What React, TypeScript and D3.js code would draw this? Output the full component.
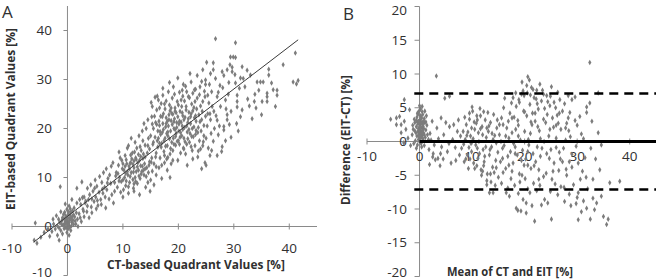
import React from "react";
import * as d3 from "d3";

// Panel A: CT-based (x) vs EIT-based (y) quadrant values [%]
const scatterA: [number, number][] = [
  [-0.5,0.5],[0,1],[0.3,0.2],[-0.2,1.5],[0.5,1.8],[0.8,0.8],[-0.8,0.3],[-1,1.2],[0.2,2.5],[-0.3,2.2],[0.6,2.9],[1,1.3],[1.3,2],[-1.4,0.8],[-0.6,-0.4],[0.1,-0.5],[0.4,-0.2],[-1.2,-0.8],[-0.9,1.8],[1.5,0.5],[0.9,3.2],[-0.1,3.5],[0.3,4.2],[-0.5,2.9],[1.8,1.5],[2.1,2.6],[1.2,3.8],[-1.8,0.1],[-2.2,-0.5],[-1.6,1.5],[0,0],[0.2,0.6],[-0.4,1],[0.7,0.1],[1.1,0.4],[-0.7,2.5],[0.4,1.3],[-0.2,0.8],[0.5,2.3],[-1.1,0.5],[0.1,1.7],[0.9,2.1],[-0.3,-0.2],[1.4,1.1],[-0.6,1.6],[0.2,3],[0.6,-0.8],[-0.1,-1.2],[-2.5,0.5],[-2.8,-1],[-3.2,-2],[-3.5,-0.5],[-1.8,-1.8],[-1.5,-2.8],[-4.2,-1.2],[-5.8,0.7],[-6,-2.8],[-5.5,-3.4],[-4.8,-2.2],[-2,2.2],[-1.2,3],[2.5,1],[2.8,3.5],[2.4,4.5],[1.7,4.8],[0.8,5.5],[-0.4,4.6],[3,2],[-2.6,1.5],[0.3,-1.8],[-0.9,-1.5],[1.9,0],
  [2.6,9.1],[1.7,7.8],[-1.3,8.1],[3.2,4.8],[3.5,3],[3.8,5.5],[4,6.5],[4.3,4],[4.6,7.2],[4.8,5.1],[5.1,6],[5.3,8.2],[5.5,4.3],[5.7,7],[6,5.5],[6.2,9],[6.4,6.8],[6.7,8],[6.9,3.8],[7.1,7.5],[7.3,9.8],[7.5,5.6],[7.8,8.8],[8,6.5],[3,6],[3.6,7.8],[4.2,8.5],[2.2,5.5],[2.9,3.1],[5,9.5],[5.8,10.2],[6.5,11],[7,11.8],[7.6,10.5],[4.4,2.8],[6.1,4.5],[5.2,3.6],[3.9,1.8],[2.3,1.8],[6.8,6],[8.3,4.8],[8.5,7.2],[4.9,7.8],[3.3,5.2],[7.9,12.3],
  [8.5,9],[8.8,11],[9,8],[9.2,12.5],[9.4,10],[9.6,7],[9.8,13.5],[10,9.5],[10.2,11.5],[10.4,14.5],[10.5,8.3],[10.7,12.8],[10.9,10.5],[11,16.5],[11.2,9],[11.4,13],[11.5,11],[11.7,15],[11.9,7.8],[12,12],[12.2,10],[12.3,14],[12.5,16],[12.6,8.8],[12.8,11.5],[13,13.5],[13.1,9.8],[13.3,15.5],[13.5,12.3],[13.6,17.5],[13.8,10.5],[14,14.2],[14.1,8],[14.3,12],[14.5,16.5],[14.6,11],[14.8,13.2],[15,18.5],[15,9.5],[9.1,10.8],[9.5,14],[9.9,11.8],[10.1,7.5],[10.3,10],[10.6,13.6],[10.8,11.2],[11.1,12.3],[11.3,10.2],[11.6,13.8],[11.8,9.6],[12.1,15.2],[12.4,11.2],[12.7,13],[12.9,10.3],[13.2,12.4],[13.4,11.2],[13.7,14.8],[13.9,12.8],[14.2,10.2],[14.4,15],[14.7,12.5],[14.9,7.2],[11.5,18],[12.2,17.2],[10.8,16],[12.9,18.5],[13.5,19.5],[14.2,20],[8.2,13],[9.3,15.2],[10,6],[11,6.8],[12,7.2],[13,6.5],[14.5,9],[15.3,11.3],[15.6,8.5],[16,10.5],[16.5,12],[17,9.8],[17.5,13],[18,11.5],[18.5,10],[19,13.5],[11.9,11.1],[12.6,12.2],[10.6,9.3],[11.4,14.6],[13.1,16.3],[12.3,9.2],[14,11.8],[13.6,13.9],[11.2,11.8],[12.8,14.7],[10.4,12.3],[9.7,9.2],[11.8,12.7],[13.3,10.7],[12,13.4],
  [15.2,14],[15.4,16.8],[15.5,20],[15.7,22.5],[15.3,24.5],[15.8,18.2],[15.1,25.3],[15.6,12.8],
  [16,15],[16.2,17.5],[16.3,19.5],[16.5,21.5],[16.1,23.8],[16.4,25.8],[16.7,14],[16.8,18.8],[16.6,20.6],[16.9,16.2],[16.2,26.6],[16.6,24.2],
  [17,17],[17.1,19.2],[17.2,21],[17.3,23],[17.4,15.3],[17.5,25],[17.6,18],[17.7,20.3],[17.8,22.2],[17.9,13.8],[17.2,26.8],[17.6,24],
  [18,16.5],[18.1,18.5],[18.2,20.5],[18.3,22.8],[18.4,24.8],[18.5,14.8],[18.6,19.5],[18.7,21.6],[18.8,17.2],[18.9,26.2],[18.2,27.5],[18.5,23.6],[18.7,12.8],
  [19,15.5],[19.1,18],[19.2,20],[19.3,22],[19.4,24.2],[19.5,16.6],[19.6,19],[19.7,21.2],[19.8,25.5],[19.9,13.5],[19.3,27],[19.6,23.2],[19.1,28.5],
  [20,17.5],[20.1,19.5],[20.2,21.5],[20.3,23.5],[20.4,15],[20.5,25.8],[20.6,18.5],[20.7,20.5],[20.8,22.6],[20.9,16],[20.2,27.4],[20.6,24.5],[20.9,29],
  [21,18],[21.1,20.2],[21.2,22.3],[21.3,14.8],[21.4,24.5],[21.5,16.8],[21.6,19.3],[21.7,21.2],[21.8,26.5],[21.9,23.3],[21.3,28.6],[21.6,12.5],
  [22,17.2],[22.1,19],[22.2,21],[22.3,23],[22.4,25],[22.5,15.5],[22.6,27.2],[22.7,18.3],[22.8,20.3],[22.9,22.2],[22.3,29.5],[22.6,13.8],
  [23,16.5],[23.1,18.8],[23.2,21.5],[23.3,24],[23.4,26.2],[23.5,14.2],[23.6,20.2],[23.7,22.8],[23.8,17.5],[23.9,28.5],[23.4,30.8],
  [24,15.8],[24.1,19.5],[24.2,21.8],[24.3,23.5],[24.4,25.5],[24.5,17.3],[24.6,20.6],[24.7,27.6],[24.8,13],[24.9,22.5],[24.4,32],
  [25,18],[25.2,20.5],[25.3,23],[25.4,16],[25.5,25.2],[25.6,29],[25.8,21.8],[25.9,19],[25.1,33.5],[25.7,14.5],
  [16.4,18],[16.8,22.5],[17.3,19.8],[17.8,21],[18.1,19.3],[18.4,17.9],[18.9,20.8],[19.2,21.4],[19.5,18.4],[19.9,22.4],[20.1,20.9],[20.4,19.2],[20.7,23.2],[21,21.8],[21.2,17.3],[21.5,20.5],[21.9,19.8],[22.2,22.4],[16.1,20.8],[17.1,22.4],[18.3,21.8],[19.4,23.5],[20.3,18.2],[21.4,23.8],[22.5,20],[15.9,21.2],[17.4,17.5],[18.6,15.9],[19.8,17.4],[20.8,19.8],[21.7,17.9],[22.8,24.3],[23.1,22.6],[16.7,19.4],[17.9,19],[19,22.9],[20,24.8],[21.1,25.6],[22,26.3],[23.5,19.2],[15.5,17.2],[16.3,16.2],[17.7,16.4],[18.8,23.1],[19.7,20.2],[20.5,21.3],[21.8,22],[22.4,18.4],[23,25.5],[24,24.6],
  [26.7,38.3],[30.3,37.5],[29.4,34.6],[29.9,34.6],[30.3,34.5],[41.1,35.4],[40.7,29.5],[41.6,29.8],[41.3,29.1],[38.9,33],[36.3,32.1],[36.3,30.9],[37.8,27.8],[37.8,26.8],[37.1,27.9],[34.2,29.5],[34.8,29.5],[35.3,29.5],[36,27.2],[36,26.5],[36,25.5],[35.1,25.5],[33.8,27],[33.7,25.5],[34,24.2],[31.5,32.6],[32.4,31.9],[33,30.9],[31.2,30.3],[31.7,30.2],[30.3,29.3],[31,28.2],[30.6,26.8],[30.6,25.5],[30.6,24.4],[31.5,23.8],[31.2,22.4],[30.8,19.5],[28.8,22.8],[28.8,21.8],[28.2,20.4],[28.2,19.7],[27.9,16.3],[27.2,18.7],[27,21.7],[26.4,23.5],[27.6,24.5],[28.8,32],[29.3,33],[29.7,32.5],[26.3,32],[26.3,33.4],[24.9,29.9],[24.9,29],[27.9,31.6],[29.7,31.6],[26,27.5],[27,26.5],[28,28.3],[29,27],[26.5,20],[27.5,28.8],[28.5,25.8],[29.5,23.5],[32.5,26],[32,28.5],[26,15.5],[27,14.5],[25,12.5],[28.5,17.5],[24.2,11.8],
  [10.5,10.8],[11.3,12.9],[12.4,13.7],[13.7,11.5],[14.8,15.8],[15.1,13.1],[15.9,14.2],[16.6,17],[17.5,14.5],[18,21.5],[18.7,24.2],[19.4,19.8],[20.2,16.8],[20.8,26.6],[21.5,27.5],[22.6,23.6],[23.2,19.6],[23.9,21.4],[24.6,18.5],[25.3,26.8],[26.1,24.5],[26.8,22.6],[27.4,20.5],[28.6,24],[29.2,20.8],[25.7,23],[24.4,16.5],[23.6,15.4],[22.3,16.3],[21,15.8],[19.2,16.8],[18.1,14.1],[17,12.5],[16,12.2],[15.3,20.9],[14.6,18],[14,16.6],[13.2,14.3],[12,8.7],[11,8.1],[10,12.8],[9.3,9.3],[8.7,10.3],[7.2,8.9],[6.3,7.6],[5.4,5.3],[4.4,5.6],[3.6,4.2],[-0.2,-0.2],[0.3,0.9],[-0.6,0.4],[0.7,1.6],[0.1,0.4],[-0.3,0.6],[1.6,2.8],[1.1,2.4],[-1.5,-0.3],[0.5,3.6],[2.7,5.9],[17.2,28.2],[18.4,29.4],[19.9,30.3],[20.7,27.8],[22.1,31.2],[23.1,28],[24.2,29.6],[26.7,30.2],[27.2,27.4],[28.2,30.8],[29.1,29.4],[30.2,31],[25.8,31.2],[24.8,26.5],[23.8,26.9],[22.9,27.9],[17.8,25.6],[16.9,25.1],[15.8,26.4],[15.2,22.4],[14.5,21.8],[13.8,21],[26.3,17.4],[27.8,15.3],[29.5,18.2],[30.5,21],[32.8,24.6],[33.3,22],[35,22.8],[37.5,24.5],[34.5,27.8],[36.8,29.3]
];

// Regression line in panel A (end points, data units)
const fitLine: [number, number][] = [[-6.1, -3.2], [41.6, 38.1]];

// Panel B: mean of CT and EIT (x) vs difference EIT-CT (y)
const scatterB: [number, number][] = [
  [0,0.5],[0.2,1],[-0.3,1.5],[0.5,2],[-0.5,0.8],[0.8,1.2],[0.1,2.5],[-0.2,3],[0.4,3.5],[-0.6,2.2],[0.7,0.2],[-0.8,0.1],[1,2.8],[0.3,-0.3],[-0.4,-0.5],[0.6,4],[-0.1,4.5],[0.9,3.4],[-0.9,2.8],[1.2,1.7],[-1.2,1.8],[0.2,0],[-0.1,1.2],[0.4,1.4],[0.1,3.2],[-0.3,2.6],[0.6,2.6],[0.8,1.9],[-0.7,1.3],[1.1,0.6],[-0.2,0.3],[0.5,0.9],[0.3,2.1],[-0.5,3.6],[0.2,4.8],[1.3,3.8],[-1,3.3],[0.9,-0.6],[-1.1,-0.3],[1.5,1],[1.4,2.4],[-1.4,1],[0,1.8],[0.3,0.6],[-0.1,2],[0.7,3],[0.4,-0.8],[-0.6,-1],[1.7,0.3],[-1.3,2.4],[0,5.3],[0.5,5.2],[-0.4,4.2],[1,4.5],[0.2,1.6],[0.6,1.6],[-0.2,0.9],[0.1,2.9],[-3.8,3.7],[-4.4,2.5],[-3.5,1.3],[-2.9,3],[-4.4,3.5],[-3.5,2.5],[-2.9,6.2],[-1.9,4.7],[-2.2,0.5],[-2.6,1.8],[-1.7,-0.6],[-3,-0.2],[-5.5,3.3],
  [1.9,-3.4],[6,-3.2],[2.5,-2.3],[3,-2.7],[3.5,-2.5],[0.6,1.5],[2,1.2],[3.3,2],[5,2.8],[5.7,2.2],[3.2,9.7],[4.8,6.4],[5.7,6.7],[2.2,0.2],[2.8,-0.5],[3.6,0.4],[4.2,-0.8],[4.6,1],[5.3,-1.5],[6.3,0.3],[6.8,-0.9],[7.2,1.5],[7.6,-2],[4,-1.8],[2.4,3],[4.1,3.5],[6.5,2.5],[7.8,0.8],[3.9,-3.6],[5.6,-0.3],[6.9,-2.8],[7.4,3.2],[1.8,-1.2],[2.6,-1.8],[4.5,-2.6],
  [8,-1],[8.3,1.5],[8.5,-3],[8.7,0.3],[8.9,2.5],[9.1,-2],[9.3,-4],[9.5,3.3],[9.7,0.8],[9.9,-1.5],[10.1,4.5],[10.3,-3.2],[10.5,1.8],[10.7,-0.5],[10.9,3.8],[11.1,-2.5],[11.3,0],[11.5,4.9],[11.7,-4.2],[11.9,2.2],[12.1,-1.2],[12.3,-3],[12.5,3.2],[12.7,0.6],[12.9,-4.8],[13.1,1.5],[13.3,-2],[13.5,2.8],[13.7,-0.8],[13.9,-3.8],[14.1,4],[14.3,0.9],[14.5,-2.8],[14.7,2],[14.9,-1.6],[9.5,4.2],[10,5.1],[11,3.2],[10.5,-4],[11.8,-5],[12.8,-5.8],[12.8,-6.4],[13.3,-7.6],[14,-7.6],[13.6,-6],[12,1],[12.4,-2.2],[11.2,1.3],[10.8,2.7],[9.8,-0.3],[8.8,-2.6],[9.2,1.4],[13,4.3],[14.2,-4.6],[14.8,3.2],[13.8,1.2],[12.6,-0.8],[11.4,-1.8],[10.2,0.4],[9.4,-0.9],[8.6,3.6],[14.6,-0.2],[13.2,2.3],[11.6,3.8],[12.2,4.4],[15,-5.3],[15.6,-6.2],[14.4,-6.5],[10.9,-3.6],[9.9,2],
  [15.2,1],[15.4,-3],[15.6,3.5],[15.8,-1],[16,5],[16.2,6.4],[16.4,-4],[16.6,2],[16.8,-2.2],[17,0.5],[17.2,4.2],[17.4,-5.5],[16.5,-7.6],[17.1,-8.1],[17.5,5.7],[15.5,0],[16.1,-0.6],[16.9,3],[17.3,-1.5],[15.9,2.5],
  [17.6,1.3],[17.8,-3.2],[18,3.6],[18.2,-0.8],[18.4,5.2],[18.6,-2],[18.8,2.4],[19,-4.8],[19.2,0.2],[19.4,7],[19.6,-1.3],[19.8,4.5],[18.4,-9.9],[18.7,-10.2],[19.3,-10.3],[19.5,8.8],[19.7,7.5],[18.9,6.2],[18.1,-6.5],[19.1,-6],[18.3,1.8],[19.9,-3.5],[17.9,-0.3],[18.7,3.1],
  [20,1.5],[20.2,-2.6],[20.4,3.8],[20.3,-9.1],[20.3,-10.6],[20.6,9.6],[20.5,7.2],[20.8,-0.5],[21,5.5],[21.3,8],[21.2,-4],[21.4,2.5],[21.6,-1.8],[21.8,6.5],[21,-7.6],[21.9,-11.8],[20.7,0.3],[21.5,4.2],[21.7,-6.2],[20.1,-5.5],[22,3],[22.3,7.6],[22.1,-3],[21.1,1.2],[20.6,-3.5],
  [22.4,-0.8],[22.6,4.8],[22.8,1.6],[23,-2.2],[23.2,6],[23.4,7.6],[23.6,-5.2],[23.8,-8.6],[24,2.8],[24.1,-4.7],[24.4,-9.1],[24.6,0.8],[24.8,5.3],[25.1,8.1],[25,-1.2],[25.1,-11.5],[25.3,3.5],[25.6,-3.2],[22.9,-6.5],[23.7,0],[24.3,4],[22.5,2.2],[23.3,-1],[24.7,-2.5],[25.5,2.1],[24.2,6.8],[22.7,-4.2],
  [25.8,-6.3],[26,0.5],[26.2,3.9],[26.3,-7.9],[26.5,-4.3],[26.7,6.2],[26.9,1.8],[26,-0.9],[26.8,-2.6],[25.9,5],[26.4,2.7],[26.6,-1.6],
  [27.2,4.5],[27.4,-1],[27.6,-8.9],[27.8,2],[28,-5],[28.3,3.5],[28.5,-3],[28.7,0.7],[29,6.2],[29.3,-6.4],[29.6,6.6],[29.8,-0.7],[30,2.4],[30.2,-7.6],[30.2,-11.6],[30.5,3.7],[30.8,-10.4],[31,-4.4],[31.2,0.4],[31.5,-2.4],[31.7,-5.3],[31.8,4.3],[31.8,5.1],[32.4,5.7],[32.4,11.7],[32.6,-1],[33,-8.4],[33.3,-10.1],[33.7,-9.1],[34,7.2],[34,1.3],[34.3,-4.2],[34.6,-0.5],[35,-11.1],[35.6,-12.3],[35.9,-11.5],[36.2,-6.1],[38.1,-5.9],[28,2.7],[28.6,4.3],[30,-8.3],[32,-7],[29,-3.8],[33.5,-2.6],[27.5,-6.8],[28.8,-9.5],[32.8,3],[31.2,-8.8],
  [0.1,0.8],[-0.2,1.9],[0.4,2.8],[0.2,3.8],[-0.4,2.9],[0.7,2.2],[0.3,1.2],[-0.1,0.1],[0.9,1],[-0.6,3.1],[0.5,4.4],[1.2,2.9],[-0.9,1.6],[0.6,0.5],[-0.3,4],
  [8.4,-0.4],[9,0.9],[9.6,-2.6],[10.4,2.9],[11,-1],[11.6,1.9],[12.2,-3.6],[12.8,2],[13.4,-1.2],[14,0.3],[14.6,-3.9],[15.2,2.5],[15.8,-2.5],[16.4,0.8],[17,-3.5],[17.6,3.5],[18.2,-1.8],[18.8,0.8],[19.4,-2.8],[20,4.4],[20.6,-1.5],[21.2,2.9],[21.8,-3.6],[22.4,5.6],[23,0.4],[23.6,3.3],[24.2,-1.8],[24.8,1.8],[25.4,-4.4],[26,2.4],[26.6,4.2],[27.2,-3],[27.8,0.2],[28.4,1.6],[29,-1.9],[29.6,3.1],[30.2,-3.2],[30.8,1.1],
  [19,5.8],[19.9,6.8],[20.4,8.3],[21.1,6.9],[21.6,7.7],[22.2,6.3],[22.9,8.5],[23.6,7],[24.4,5.9],[18.3,7.2],[17.8,6.5],[20.9,9.1],[22,4.2],[23.8,4.9],[24.9,6.7],[25.6,5.8],[26.3,7.3],[27.6,5.6],[28.3,6.8],
  [16.8,-6.9],[18.8,-7.7],[20.6,-7],[22.3,-7.3],[23.2,-9.4],[24.9,-7.4],[26.9,-6.7],[28.5,-7.8],[29.8,-9.2],[31.8,-9.9],[32.5,-11.5],[34.6,-8.1],[19.7,-8.6],[21.4,-9.5],[15.9,-4.6],[17.6,-4.4],[19.5,-5],[22.7,-5.6],[25.2,-5.6],[27.9,-4.1],[30.6,-5.6],[33,-5.6],[13.5,-4.8],[12,-4.4]
];

// Limits of agreement and bias line in panel B
const limitsB: number[] = [7.1, -7.1];
const biasB: number[] = [0];
const limitXRange: number[] = [-1, 45];
const biasXRange: number[] = [0, 45];

const ticksAX: number[] = [-10, 0, 10, 20, 30, 40];
const ticksAY: number[] = [-10, 0, 10, 20, 30, 40];
const ticksBX: number[] = [-10, 0, 10, 20, 30, 40];
const ticksBY: number[] = [-20, -15, -10, -5, 0, 5, 10, 15, 20];

const FONT = "'Open Sans', 'DejaVu Sans', sans-serif";
const AXIS = "#8a8a8a";
const TXT = "#303030";
const PT = "#7c7c7c";

export default function App() {
  const xA = d3.scaleLinear().domain([-10, 45]).range([12, 317]);
  const yA = d3.scaleLinear().domain([-10, 45]).range([275.5, 6]);
  const xB = d3.scaleLinear().domain([-10, 45]).range([367, 656]);
  const yB = d3.scaleLinear().domain([-20, 20]).range([276.5, 6.5]);
  const diamond = d3.symbol().type(d3.symbolDiamond).size(9)() as string;
  const lineA = d3.line<[number, number]>().x(d => xA(d[0])).y(d => yA(d[1]));
  // keep edge labels inside the 280px frame
  const clampY = (y: number) => Math.max(10, Math.min(272, y));

  return (
    <svg width={658} height={280} style={{ position: "absolute", left: 0, top: 0, background: "#fff" }} fontFamily={FONT}>
      <rect width={658} height={280} fill="#fff" />
      {/* Panel A axes */}
      <line x1={xA(-10)} x2={xA(45)} y1={yA(0)} y2={yA(0)} stroke={AXIS} />
      <line x1={xA(0)} x2={xA(0)} y1={yA(-10)} y2={yA(45)} stroke={AXIS} />
      {ticksAX.map(t => (
        <g key={"ax" + t}>
          <line x1={xA(t)} x2={xA(t)} y1={yA(0) - 3} y2={yA(0) + 3} stroke={AXIS} />
          <text x={xA(t)} y={yA(0) + 26} textAnchor="middle" fontSize={13.5} fill={TXT}>{t}</text>
        </g>
      ))}
      {ticksAY.map(t => (
        <g key={"ay" + t}>
          <line x1={xA(0) - 4} x2={xA(0)} y1={yA(t)} y2={yA(t)} stroke={AXIS} />
          <text x={52} y={clampY(yA(t))} dy="0.35em" textAnchor="end" fontSize={13.5} fill={TXT}>{t}</text>
        </g>
      ))}
      {scatterA.map((d, i) => (
        <path key={"a" + i} d={diamond} transform={`translate(${xA(d[0])},${yA(d[1])})`} fill={PT} />
      ))}
      <path d={lineA(fitLine) as string} stroke="#3a3a3a" strokeWidth={1} fill="none" />
      <text x={2} y={18} fontSize={17} fill={TXT}>A</text>
      <text x={196} y={269} textAnchor="middle" fontSize={12.5} fontWeight="bold" fill={TXT} textLength={178} lengthAdjust="spacingAndGlyphs">CT-based  Quadrant Values [%]</text>
      <text transform={`translate(15,119) rotate(-90)`} textAnchor="middle" fontSize={12.5} fontWeight="bold" fill={TXT} textLength={182} lengthAdjust="spacingAndGlyphs">EIT-based  Quadrant Values [%]</text>

      {/* Panel B axes */}
      <line x1={xB(-10)} x2={xB(45)} y1={yB(0)} y2={yB(0)} stroke={AXIS} />
      <line x1={xB(0)} x2={xB(0)} y1={yB(-20)} y2={yB(20)} stroke={AXIS} />
      {ticksBX.map(t => (
        <g key={"bx" + t}>
          <line x1={xB(t)} x2={xB(t)} y1={yB(0) - 3} y2={yB(0) + 3} stroke={AXIS} />
          <text x={xB(t)} y={yB(0) + 19} textAnchor="middle" fontSize={13.5} fill={TXT}>{t}</text>
        </g>
      ))}
      {ticksBY.map(t => (
        <g key={"by" + t}>
          <line x1={xB(0) - 5} x2={xB(0)} y1={yB(t)} y2={yB(t)} stroke={AXIS} />
          <text x={407} y={clampY(yB(t))} dy="0.35em" textAnchor="end" fontSize={13.5} fill={TXT}>{t}</text>
        </g>
      ))}
      {scatterB.map((d, i) => (
        <path key={"b" + i} d={diamond} transform={`translate(${xB(d[0])},${yB(d[1])})`} fill={PT} />
      ))}
      {biasB.map((v, i) => (
        <line key={"bias" + i} x1={xB(biasXRange[0])} x2={xB(biasXRange[1])} y1={yB(v)} y2={yB(v)} stroke="#000" strokeWidth={3} />
      ))}
      {limitsB.map((v, i) => (
        <line key={"lim" + i} x1={xB(limitXRange[0])} x2={xB(limitXRange[1])} y1={yB(v)} y2={yB(v)} stroke="#000" strokeWidth={2.5} strokeDasharray="9,6" />
      ))}
      <text x={343} y={20} fontSize={17} fill={TXT}>B</text>
      <text x={510} y={276} textAnchor="middle" fontSize={12.5} fontWeight="bold" fill={TXT} textLength={126} lengthAdjust="spacingAndGlyphs">Mean of CT and EIT [%]</text>
      <text transform={`translate(350,140) rotate(-90)`} textAnchor="middle" fontSize={12.5} fontWeight="bold" fill={TXT} textLength={130} lengthAdjust="spacingAndGlyphs">Difference  (EIT-CT) [%]</text>
    </svg>
  );
}
